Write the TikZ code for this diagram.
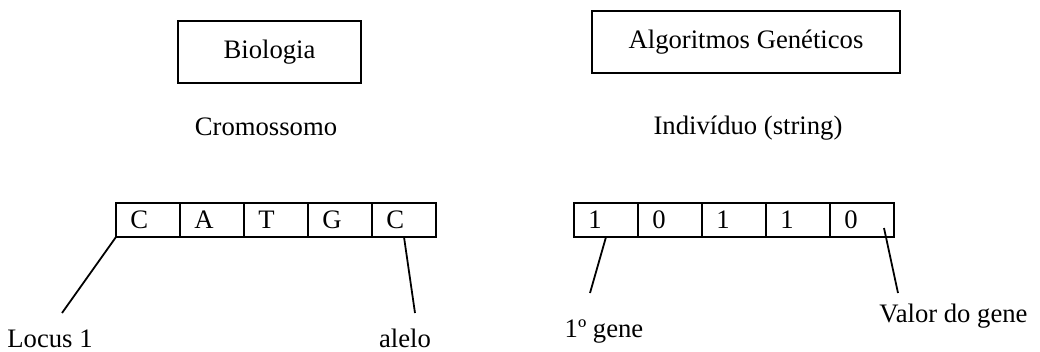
\documentclass[tikz,border=0pt]{standalone}
\usepackage{fontspec}
\setmainfont{Liberation Serif}
\usetikzlibrary{calc}

\def\px{0.45pt}

\tikzset{
	box/.style={draw, thick, inner sep=0pt},
	cell/.style={draw, thick, minimum width=28.8pt, minimum height=15.3pt, text width=15.8pt, inner xsep=6.5pt, inner ysep=0pt, align=left, outer sep=0pt},
	link/.style={thick},
}

\begin{document}
\begin{tikzpicture}[x=\px, y=-\px, font=\fontsize{12}{14}\selectfont]
	\useasboundingbox (0,0) rectangle (1040,351);

	\node[box, minimum width=82.4pt, minimum height=27.9pt]	(bio) at (269.5,52) {Biologia};
	\node[box, minimum width=138.6pt, minimum height=27.9pt]	(ag) at (746,42) {Algoritmos Genéticos};

	\node[anchor=base]	(crom) at (266,135) {Cromossomo};
	\node[anchor=base]	(indiv) at (748,134) {Indivíduo (string)};

	\node[cell]	(c1) at (148,220) {C};
	\node[cell]	(c2) at (212,220) {A};
	\node[cell]	(c3) at (276,220) {T};
	\node[cell]	(c4) at (340,220) {G};
	\node[cell]	(c5) at (404,220) {C};

	\node[cell]	(g1) at (606,220) {1};
	\node[cell]	(g2) at (670,220) {0};
	\node[cell]	(g3) at (734,220) {1};
	\node[cell]	(g4) at (798,220) {1};
	\node[cell]	(g5) at (862,220) {0};

	\node[anchor=base]	(locus) at (50,347) {Locus 1};
	\node[anchor=base]	(alelo) at (405,347) {alelo};
	\node[anchor=base]	(gene) at (604,337) {1º gene};
	\node[anchor=base]	(valor) at (953.5,322) {Valor do gene};

	\coordinate (locusend) at (62,313);
	\coordinate (aleloend) at (415,313);
	\coordinate (geneend) at (590,293);
	\coordinate (valorend) at (898,293);

	\draw[link]	(c1.south west) -- (locusend);
	\draw[link]	(c5.south) -- (aleloend);
	\draw[link]	(g1.south) -- (geneend);
	\draw[link]	($(g5.south east)+(-10,-9)$) -- (valorend);
\end{tikzpicture}
\end{document}
